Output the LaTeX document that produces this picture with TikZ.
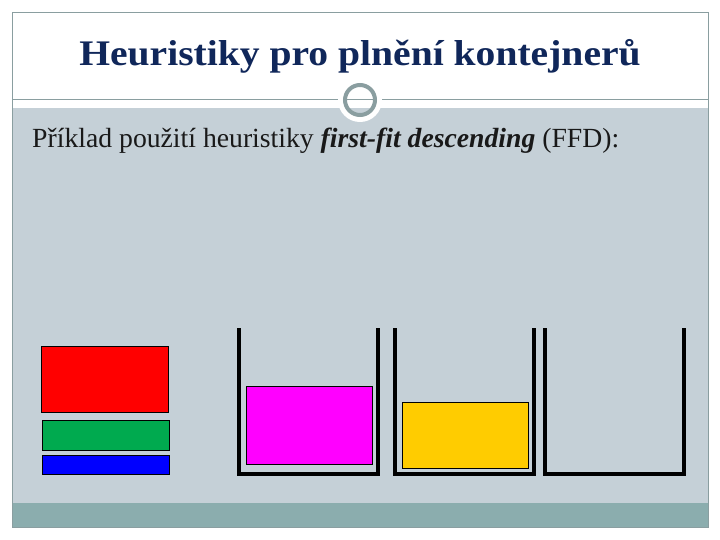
\documentclass[tikz,border=0pt]{standalone}
\usepackage{fontspec}
\setmainfont{Liberation Serif}
\definecolor{bodygray}{HTML}{C5D0D7}
\definecolor{footgray}{HTML}{8BADAE}
\definecolor{framegray}{HTML}{8A9EA0}
\definecolor{titlenavy}{HTML}{10275A}
\definecolor{itemred}{HTML}{FF0000}
\definecolor{itemgreen}{HTML}{00AA4F}
\definecolor{itemblue}{HTML}{0000FF}
\definecolor{itemmagenta}{HTML}{FF00FF}
\definecolor{itemyellow}{HTML}{FFCC00}
\tikzset{
  item/.style={draw=black, line width=0.8pt, inner sep=0pt, anchor=north west},
  binwall/.style={draw=black, line width=4pt, line cap=rect},
}
\begin{document}
\begin{tikzpicture}[x=1pt,y=-1pt]
\useasboundingbox (0,0) rectangle (720,540);
\fill[white] (0,0) rectangle (720,540);
\fill[bodygray] (12,108) rectangle (708,503);
\fill[footgray] (12,503) rectangle (708,527);
\draw[framegray, line width=0.8pt] (12,12) rectangle (708,527);
\draw[framegray, line width=1pt] (12,100) -- (708,100);
% ornament
\draw[white, line width=6pt] (360,100) circle[radius=19];
\node[circle, draw=framegray, line width=4pt, minimum size=30pt, inner sep=0pt] (ring) at (360,100) {};
% title
\node[font=\fontsize{36}{40}\selectfont\bfseries, text=titlenavy] (title) at (360,56) {\scalebox{1.1}[1]{Heuristiky pro plnění kontejnerů}};
% body text
\node[anchor=base west, font=\fontsize{27.7}{30}\selectfont, text=black!90, inner sep=0pt] (body) at (32,148)
  {Příklad použití heuristiky \textbf{\textit{first-fit descending}} (FFD):};
% items to pack
\node[item, fill=itemred, minimum width=127pt, minimum height=66pt] (red) at (41,346) {};
\node[item, fill=itemgreen, minimum width=127pt, minimum height=30pt] (green) at (42,420) {};
\node[item, fill=itemblue, minimum width=127pt, minimum height=19pt] (blue) at (42,455) {};
% bins
\draw[binwall] (239,330) -- (239,474) -- (378,474) -- (378,330);
\draw[binwall] (395,330) -- (395,474) -- (534,474) -- (534,330);
\draw[binwall] (545,330) -- (545,474) -- (684,474) -- (684,330);
% packed items
\node[item, fill=itemmagenta, minimum width=126pt, minimum height=78pt] (magenta) at (246,386) {};
\node[item, fill=itemyellow, minimum width=126pt, minimum height=66pt] (yellow) at (402,402) {};
\end{tikzpicture}
\end{document}
